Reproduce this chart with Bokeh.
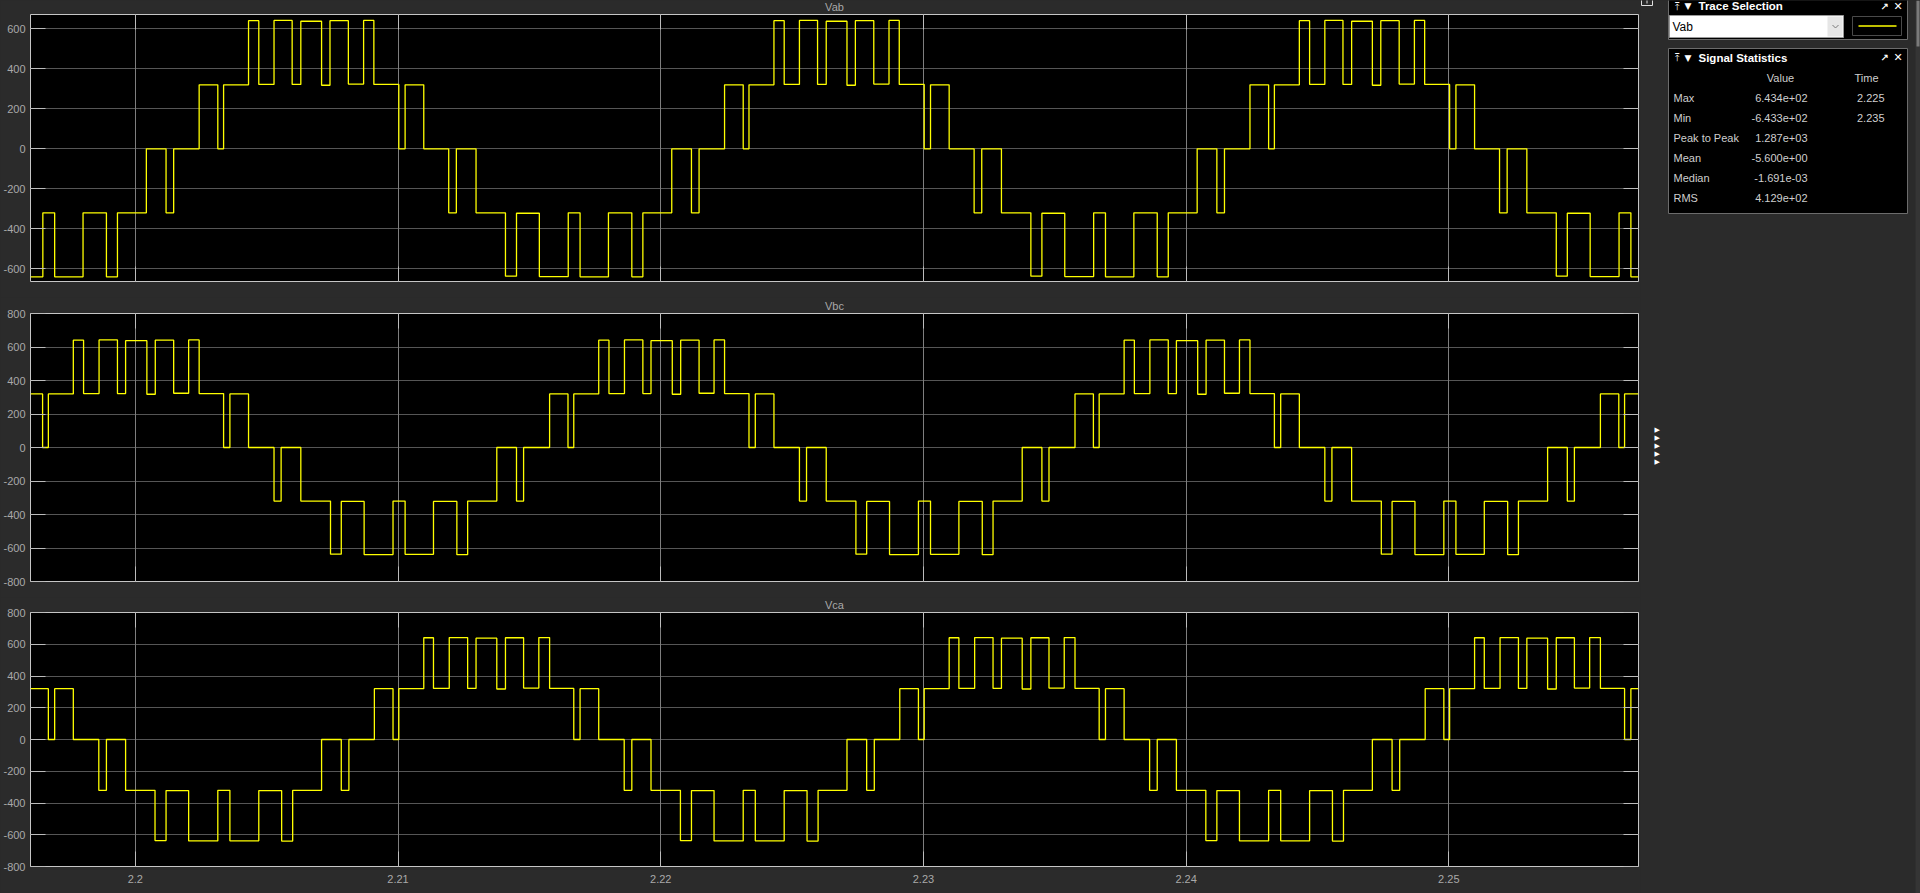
from bokeh.plotting import figure
from bokeh.layouts import row, column
from bokeh.models import Range1d, FixedTicker, LinearAxis, Grid
from bokeh.embed import file_html
from bokeh.resources import INLINE
from bokeh.core.properties import value

# ---------------- data ----------------
T_START = 2.19601
T_END = 2.25722

X_TICKS = [2.20, 2.21, 2.22, 2.23, 2.24, 2.25]
X_TICK_LABELS = ["2.2", "2.21", "2.22", "2.23", "2.24", "2.25"]

VAB_Y_TICKS = [-600, -400, -200, 0, 200, 400, 600]
VAB_Y_LABELS = ["-600", "-400", "-200", "0", "200", "400", "600"]
VAB_Y_RANGE = (-663.4, 671.8)

V_Y_TICKS = [-800, -600, -400, -200, 0, 200, 400, 600, 800]
V_Y_LABELS = ["-800", "-600", "-400", "-200", "0", "200", "400", "600", "800"]
V_Y_RANGE = (-800, 800)

# Vab: level before first switching instant, switching instants, level after each instant
VAB_START = -640
VAB_T = [2.19648, 2.19693, 2.19801, 2.19890, 2.19932, 2.20042, 2.20117, 2.20146, 2.20243, 2.20314,
         2.20336, 2.20431, 2.20470, 2.20528, 2.20597, 2.20630, 2.20709, 2.20741, 2.20811, 2.20869,
         2.20908, 2.21003, 2.21027, 2.21098, 2.21193, 2.21222, 2.21297, 2.21409, 2.21451, 2.21538,
         2.21648, 2.21693, 2.21801, 2.21890, 2.21932, 2.22042, 2.22117, 2.22146, 2.22243, 2.22314,
         2.22336, 2.22431, 2.22470, 2.22528, 2.22597, 2.22630, 2.22709, 2.22741, 2.22811, 2.22869,
         2.22908, 2.23003, 2.23027, 2.23098, 2.23193, 2.23222, 2.23297, 2.23409, 2.23451, 2.23538,
         2.23648, 2.23693, 2.23801, 2.23890, 2.23932, 2.24042, 2.24117, 2.24146, 2.24243, 2.24314,
         2.24336, 2.24431, 2.24470, 2.24528, 2.24597, 2.24630, 2.24709, 2.24741, 2.24811, 2.24869,
         2.24908, 2.25003, 2.25027, 2.25098, 2.25193, 2.25222, 2.25297, 2.25409, 2.25451, 2.25538,
         2.25648, 2.25693]
VAB_V = [-320, -640, -320, -640, -320, 0, -320, 0, 320, 0, 320, 641, 322, 642, 322, 638, 318, 641, 324, 642, 322, 0, 320, 0, -320, 0, -320, -637, -322, -639,
         -320, -640, -320, -640, -320, 0, -320, 0, 320, 0, 320, 641, 322, 642, 322, 638, 318, 641, 324, 642, 322, 0, 320, 0, -320, 0, -320, -637, -322, -639,
         -320, -640, -320, -640, -320, 0, -320, 0, 320, 0, 320, 641, 322, 642, 322, 638, 318, 641, 324, 642, 322, 0, 320, 0, -320, 0, -320, -637, -322, -639,
         -320, -640]

VBC_START = 320
VBC_T = [2.19647, 2.19669, 2.19764, 2.19803, 2.19862, 2.19932, 2.19963, 2.20044, 2.20076, 2.20146,
         2.20203, 2.20243, 2.20336, 2.20360, 2.20431, 2.20528, 2.20555, 2.20630, 2.20743, 2.20784,
         2.20871, 2.20981, 2.21027, 2.21135, 2.21224, 2.21265, 2.21376, 2.21451, 2.21478, 2.21577,
         2.21647, 2.21669, 2.21764, 2.21803, 2.21862, 2.21932, 2.21963, 2.22044, 2.22076, 2.22146,
         2.22203, 2.22243, 2.22336, 2.22360, 2.22431, 2.22528, 2.22555, 2.22630, 2.22743, 2.22784,
         2.22871, 2.22981, 2.23027, 2.23135, 2.23224, 2.23265, 2.23376, 2.23451, 2.23478, 2.23577,
         2.23647, 2.23669, 2.23764, 2.23803, 2.23862, 2.23932, 2.23963, 2.24044, 2.24076, 2.24146,
         2.24203, 2.24243, 2.24336, 2.24360, 2.24431, 2.24528, 2.24555, 2.24630, 2.24743, 2.24784,
         2.24871, 2.24981, 2.25027, 2.25135, 2.25224, 2.25265, 2.25376, 2.25451, 2.25478, 2.25577,
         2.25647, 2.25669]
VBC_V = [0, 320, 641, 322, 642, 322, 638, 318, 641, 324, 642, 322, 0, 320, 0, -320, 0, -320, -637, -322, -639, -320, -638, -322, -640, -320, 0, -320, 0, 320,
         0, 320, 641, 322, 642, 322, 638, 318, 641, 324, 642, 322, 0, 320, 0, -320, 0, -320, -637, -322, -639, -320, -638, -322, -640, -320, 0, -320, 0, 320,
         0, 320, 641, 322, 642, 322, 638, 318, 641, 324, 642, 322, 0, 320, 0, -320, 0, -320, -637, -322, -639, -320, -638, -322, -640, -320, 0, -320, 0, 320,
         0, 320]

VCA_START = 320
VCA_T = [2.19669, 2.19693, 2.19764, 2.19861, 2.19890, 2.19963, 2.20075, 2.20117, 2.20203, 2.20314,
         2.20360, 2.20470, 2.20557, 2.20599, 2.20709, 2.20784, 2.20813, 2.20910, 2.20981, 2.21003,
         2.21098, 2.21135, 2.21195, 2.21265, 2.21297, 2.21376, 2.21409, 2.21478, 2.21536, 2.21577,
         2.21669, 2.21693, 2.21764, 2.21861, 2.21890, 2.21963, 2.22075, 2.22117, 2.22203, 2.22314,
         2.22360, 2.22470, 2.22557, 2.22599, 2.22709, 2.22784, 2.22813, 2.22910, 2.22981, 2.23003,
         2.23098, 2.23135, 2.23195, 2.23265, 2.23297, 2.23376, 2.23409, 2.23478, 2.23536, 2.23577,
         2.23669, 2.23693, 2.23764, 2.23861, 2.23890, 2.23963, 2.24075, 2.24117, 2.24203, 2.24314,
         2.24360, 2.24470, 2.24557, 2.24599, 2.24709, 2.24784, 2.24813, 2.24910, 2.24981, 2.25003,
         2.25098, 2.25135, 2.25195, 2.25265, 2.25297, 2.25376, 2.25409, 2.25478, 2.25536, 2.25577,
         2.25669, 2.25693]
VCA_V = [0, 320, 0, -320, 0, -320, -637, -322, -639, -320, -638, -322, -640, -320, 0, -320, 0, 320, 0, 320, 641, 322, 642, 322, 638, 318, 641, 324, 642, 322,
         0, 320, 0, -320, 0, -320, -637, -322, -639, -320, -638, -322, -640, -320, 0, -320, 0, 320, 0, 320, 641, 322, 642, 322, 638, 318, 641, 324, 642, 322,
         0, 320, 0, -320, 0, -320, -637, -322, -639, -320, -638, -322, -640, -320, 0, -320, 0, 320, 0, 320, 641, 322, 642, 322, 638, 318, 641, 324, 642, 322,
         0, 320]

STAT_NAMES = ["Max", "Min", "Peak to Peak", "Mean", "Median", "RMS"]
STAT_VALUES = ["6.434e+02", "-6.433e+02", "1.287e+03", "-5.600e+00", "-1.691e-03", "4.129e+02"]
STAT_TIMES = ["2.225", "2.235", "", "", "", ""]
TRACE_NAME = "Vab"

# ---------------- style ----------------
BG = "#2b2b2b"
TRACE = "#ffff00"
GRID_H = "#565656"
GRID_V = "#7e7e7e"
TICK = "#bcbcbc"
OUTLINE = "#c6c6c6"
LABEL = "#a9a9a9"
FONT = "Liberation Sans"
LEFT_W = 1640
BG_STYLE = {"background-color": BG}


def axis(ticks, labels, show_labels, standoff):
    ax = LinearAxis(ticker=FixedTicker(ticks=ticks))
    ax.axis_line_color = None
    ax.major_tick_in = 15
    ax.major_tick_out = 0
    ax.minor_tick_line_color = None
    ax.major_tick_line_color = TICK
    ax.major_label_text_font = FONT
    if show_labels:
        ax.major_label_overrides = dict(zip(ticks, labels))
        ax.major_label_text_color = LABEL
        ax.major_label_text_font_size = "11px"
        ax.major_label_standoff = standoff
    else:
        ax.major_label_text_color = None
        ax.major_label_text_alpha = 0
        ax.major_label_text_font_size = "0px"
        ax.major_label_standoff = 0
    return ax


def scope(title, t, v, v0, yr, yticks, ylabels, height, top, frame_h, x_labels):
    bottom = height - top - frame_h
    p = figure(width=LEFT_W, height=height,
               x_range=Range1d(T_START, T_END), y_range=Range1d(*yr),
               x_axis_type=None, y_axis_type=None,
               output_backend="svg", toolbar_location=None,
               min_border_left=28, min_border_right=2,
               min_border_top=top, min_border_bottom=bottom,
               title=title, styles=BG_STYLE)
    p.title.align = "center"
    p.title.vertical_align = "top"
    p.title.text_font = FONT
    p.title.text_font_size = "11px"
    p.title.text_font_style = "normal"
    p.title.text_color = LABEL
    p.title.standoff = 0
    p.title.offset = 0

    p.background_fill_color = "#000000"
    p.border_fill_color = BG
    p.outline_line_color = OUTLINE
    p.outline_line_width = 1

    p.add_layout(Grid(dimension=1, ticker=FixedTicker(ticks=yticks),
                      grid_line_color=GRID_H, grid_line_width=1))
    p.add_layout(Grid(dimension=0, ticker=FixedTicker(ticks=X_TICKS),
                      grid_line_color=GRID_V, grid_line_width=1))

    p.add_layout(axis(yticks, ylabels, True, 5), "left")
    p.add_layout(axis(yticks, ylabels, False, 0), "right")
    p.add_layout(axis(X_TICKS, X_TICK_LABELS, x_labels, 8), "below")
    p.add_layout(axis(X_TICKS, X_TICK_LABELS, False, 0), "above")

    xs = [T_START] + list(t) + [T_END]
    ys = [v0] + list(v) + [v[-1]]
    p.step(xs, ys, mode="after", line_color=TRACE, line_width=1.3)
    return p


p1 = scope("Vab", VAB_T, VAB_V, VAB_START, VAB_Y_RANGE, VAB_Y_TICKS, VAB_Y_LABELS,
           297, 14, 267, False)
p2 = scope("Vbc", VBC_T, VBC_V, VBC_START, V_Y_RANGE, V_Y_TICKS, V_Y_LABELS,
           300, 16, 268, False)
p3 = scope("Vca", VCA_T, VCA_V, VCA_START, V_Y_RANGE, V_Y_TICKS, V_Y_LABELS,
           296, 15, 254, True)

# ---------------- right-hand side panels ----------------
RW = 1920 - LEFT_W
p4 = figure(width=RW, height=893, x_range=Range1d(LEFT_W, 1920), y_range=Range1d(893, 0),
            x_axis_type=None, y_axis_type=None, output_backend="svg", toolbar_location=None,
            min_border=0, styles=BG_STYLE)
p4.background_fill_color = BG
p4.border_fill_color = BG
p4.outline_line_color = None
p4.grid.visible = False

PANEL_LINE = "#6c6c6c"
TXT = "#cfcfcf"

# small undock icon at top-left of side area
p4.quad(left=[1641], right=[1652], top=[-3], bottom=[5], fill_color=None, line_color="#e0e0e0", line_width=1)
p4.line([1646.5, 1646.5], [-3, 3], line_color="#e0e0e0", line_width=1)

# collapse arrows
p4.text(x=[1654] * 5, y=[429, 437, 445, 453, 461], text=["\u25b6"] * 5,
        text_color="white", text_font=value("DejaVu Sans"), text_font_size="7px",
        text_baseline="middle", text_align="left")

# Trace Selection panel
p4.quad(left=[1668], right=[1907], top=[-6], bottom=[39], fill_color="#000000", line_color=PANEL_LINE)
p4.quad(left=[1669], right=[1843], top=[15], bottom=[37], fill_color="#ffffff", line_color="#9a9a9a")
p4.quad(left=[1827], right=[1842], top=[16], bottom=[36], fill_color="#e6e6e6", line_color=None)
p4.line([1832, 1835, 1838], [24.5, 27.5, 24.5], line_color="#7a7a7a", line_width=1)
p4.text(x=[1672], y=[26.5], text=[TRACE_NAME], text_color="#000000", text_font=value(FONT),
        text_font_size="12px", text_baseline="middle", text_align="left")
p4.quad(left=[1852], right=[1901], top=[16], bottom=[35], fill_color="#000000", line_color="#4a4a4a")
p4.line([1858, 1896], [25.5, 25.5], line_color=TRACE, line_width=1.5)

# Signal Statistics panel
p4.quad(left=[1668], right=[1907], top=[48], bottom=[213], fill_color="#000000", line_color=PANEL_LINE)

for hy, htxt in [(5.5, "Trace Selection"), (57, "Signal Statistics")]:
    p4.text(x=[1674], y=[hy], text=["\u2912"], text_color="white", text_font=value("DejaVu Sans"),
            text_font_size="10px", text_baseline="middle", text_align="left")
    p4.text(x=[1684], y=[hy], text=["\u25bc"], text_color="white", text_font=value("DejaVu Sans"),
            text_font_size="9px", text_baseline="middle", text_align="left")
    p4.text(x=[1698], y=[hy], text=[htxt], text_color="white", text_font=value(FONT),
            text_font_size="11.5px", text_font_style="bold", text_baseline="middle", text_align="left")
    p4.text(x=[1880], y=[hy], text=["\u2197"], text_color="white", text_font=value("DejaVu Sans"),
            text_font_size="10px", text_font_style="bold", text_baseline="middle", text_align="left")
    p4.text(x=[1893], y=[hy], text=["\u2715"], text_color="white", text_font=value("DejaVu Sans"),
            text_font_size="11px", text_font_style="bold", text_baseline="middle", text_align="left")

p4.text(x=[1780, 1866], y=[77, 77], text=["Value", "Time"], text_color=TXT, text_font=value(FONT),
        text_font_size="11px", text_baseline="middle", text_align="center")
row_y = [97 + 20 * i for i in range(len(STAT_NAMES))]
p4.text(x=[1673] * len(STAT_NAMES), y=row_y, text=STAT_NAMES, text_color=TXT, text_font=value(FONT),
        text_font_size="11px", text_baseline="middle", text_align="left")
p4.text(x=[1807] * len(STAT_VALUES), y=row_y, text=STAT_VALUES, text_color=TXT, text_font=value(FONT),
        text_font_size="11px", text_baseline="middle", text_align="right")
p4.text(x=[1884] * len(STAT_TIMES), y=row_y, text=STAT_TIMES, text_color=TXT, text_font=value(FONT),
        text_font_size="11px", text_baseline="middle", text_align="right")

# scrollbar strip on far right
p4.quad(left=[1915], right=[1920], top=[0], bottom=[893], fill_color="#353535", line_color=None)
p4.quad(left=[1916], right=[1919], top=[0], bottom=[46], fill_color="#7a7a7a", line_color=None)

layout = row(column(p1, p2, p3, spacing=0, styles=BG_STYLE), p4, spacing=0, styles=BG_STYLE)

open("out.html", "w").write(file_html(layout, INLINE))
